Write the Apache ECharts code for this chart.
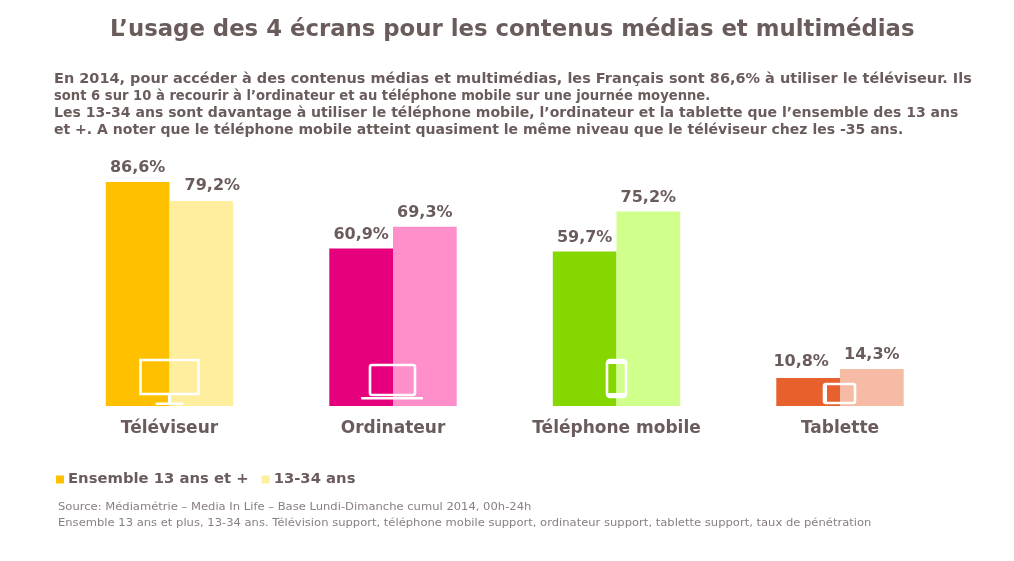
<!DOCTYPE html>
<html><head><meta charset="utf-8">
<style>html,body{margin:0;padding:0;background:#fff}#c{width:1014px;height:561px}</style>
<script src="https://cdn.jsdelivr.net/npm/echarts@6/dist/echarts.min.js"></script>
</head><body><div id="c"></div>
<script>
const categories = ['Téléviseur','Ordinateur','Téléphone mobile','Tablette'];
const ensemble = [86.6,60.9,59.7,10.8];
const jeunes = [79.2,69.3,75.2,14.3];
const ensembleColors = ['#FFC000','#E6007E','#86D600','#E8602C'];
const jeunesColors = ['#FFEE9E','#FF8FCB','#D0FF8C','#F5BBA5'];
const seriesNames = ['Ensemble 13 ans et +','13-34 ans'];
const titleText = 'L’usage des 4 écrans pour les contenus médias et multimédias';
const paragraph = [
 'En 2014, pour accéder à des contenus médias et multimédias, les Français sont 86,6% à utiliser le téléviseur. Ils',
 'sont 6 sur 10 à recourir à l’ordinateur et au téléphone mobile sur une journée moyenne.',
 'Les 13-34 ans sont davantage à utiliser le téléphone mobile, l’ordinateur et la tablette que l’ensemble des 13 ans',
 'et +. A noter que le téléphone mobile atteint quasiment le même niveau que le téléviseur chez les -35 ans.'
];
const paragraphStretch = [1.098,0.997,1.065,1.063];
const sourceLines = [
 'Source: Médiamétrie – Media In Life – Base Lundi-Dimanche cumul 2014, 00h-24h',
 'Ensemble 13 ans et plus, 13-34 ans. Télévision support, téléphone mobile support, ordinateur support, tablette support, taux de pénétration'
];
const ink = '#6B5C5C';
const font = '"DejaVu Sans", Verdana, sans-serif';
const fmt = p => String(p.value).replace('.',',') + '%';
const mkData = (vals, cols, shifts) => vals.map((v,i)=>({value:v,itemStyle:{color:cols[i]},label:shifts[i]?{offset:shifts[i]}:{}}));
const lbl = {show:true,position:'top',distance:6,formatter:fmt,color:ink,fontFamily:font,fontWeight:'bold',fontSize:16};

function rect(x,y,w,h,r){return {type:'rect',shape:{x,y,width:w,height:h,r:r||0},style:{fill:'none',stroke:'#fff',lineWidth:2.6}};}
function bar(x,y,w,h,r){return {type:'rect',shape:{x,y,width:w,height:h,r:r||0},style:{fill:'#fff'}};}
const icons = [
 (c,b)=>[rect(c-29,b-46,58,34), bar(c-1.5,b-12,3,9), bar(c-14,b-3.5,28,2.5,1)],
 (c,b)=>[rect(c-23,b-41,45,30,2), bar(c-32,b-9,62,2.4,1)],
 (c,b)=>[rect(c-9.5,b-46,19,37,3), bar(c-9.5,b-46,19,4), bar(c-9.5,b-13,19,4)],
 (c,b)=>[rect(c-16,b-22,31,19,2), bar(c-16,b-22,3,19)]
];

const chart = echarts.init(document.getElementById('c'),null,{renderer:'canvas'});
chart.setOption({
 animation:false,
 backgroundColor:'#fff',
 title:{text:titleText,left:105,top:14,textStyle:{color:ink,fontFamily:font,fontWeight:'bold',fontSize:22.8}},
 legend:{data:seriesNames,left:51,top:467,icon:'rect',itemWidth:8,itemHeight:8,itemGap:13,
   textStyle:{color:ink,fontFamily:font,fontWeight:'bold',fontSize:14.8,padding:[0,0,0,-1]}},
 grid:{left:57.75,right:62.25,top:147.3,bottom:155},
 xAxis:{type:'category',data:categories,axisLine:{show:false},axisTick:{show:false},
   axisLabel:{color:ink,fontFamily:font,fontWeight:'bold',fontSize:17,margin:14}},
 yAxis:{type:'value',min:0,max:100,show:false,splitLine:{show:false}},
 series:[
  {name:seriesNames[0],type:'bar',barWidth:63.7,barGap:0,itemStyle:{color:ensembleColors[0]},label:lbl,data:mkData(ensemble,ensembleColors,[null,null,null,[-7,-2]])},
  {name:seriesNames[1],type:'bar',barWidth:63.7,barGap:0,itemStyle:{color:jeunesColors[0]},label:lbl,data:mkData(jeunes,jeunesColors,[[11,-1],null,null,null])},
  {type:'custom',silent:true,z:5,data:categories.map((_,i)=>[i,0]),encode:{x:0,y:1},
   renderItem:(p,api)=>{const pt=api.coord([api.value(0),0]);return {type:'group',children:icons[p.dataIndex](pt[0],pt[1])};}}
 ],
 graphic:[
  ...paragraph.map((t,i)=>({type:'text',x:54,y:73.5+i*17,scaleX:paragraphStretch[i],style:{text:t,fill:ink,font:'bold 13.2px '+font}})),
  ...sourceLines.map((t,i)=>({type:'text',x:58,y:502+i*16,scaleX:1.05,style:{text:t,fill:'#8A8080',font:'11px '+font}}))
 ]
});
</script></body></html>
